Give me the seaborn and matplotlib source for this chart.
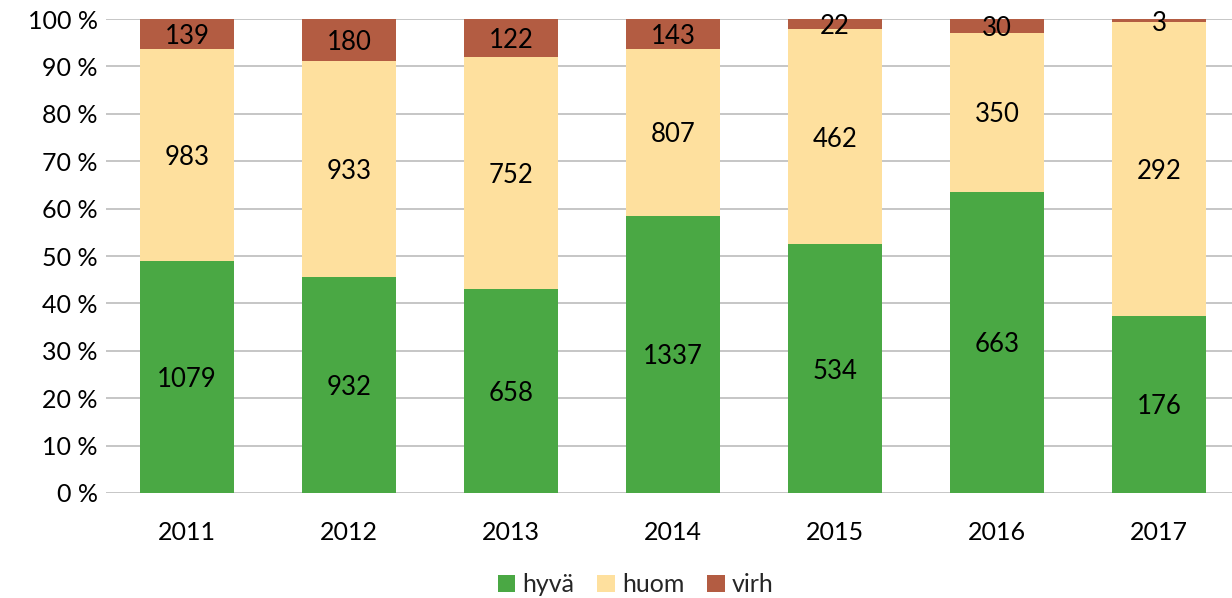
import numpy as np
import pandas as pd
import seaborn as sns
import matplotlib
matplotlib.use("Agg")
import matplotlib.pyplot as plt
from matplotlib.patches import Patch
from matplotlib.ticker import FuncFormatter

years = ["2011", "2012", "2013", "2014", "2015", "2016", "2017"]
hyva = [1079, 932, 658, 1337, 534, 663, 176]
huom = [983, 933, 752, 807, 462, 350, 292]
virh = [139, 180, 122, 143, 22, 30, 3]

series_names = ["hyvä", "huom", "virh"]
colors = ["#4aa844", "#fee09e", "#b35c42"]

sns.set_theme(style="white")
plt.rcParams["font.family"] = ["Lato", "DejaVu Sans"]

df = pd.DataFrame({"year": years, "hyvä": hyva, "huom": huom, "virh": virh})
tot = df[series_names].sum(axis=1)
pct = df[series_names].div(tot, axis=0) * 100

fig = plt.figure(figsize=(12.32, 5.98), dpi=100)
ax = fig.add_axes([0.086, 0.1756, 0.9205, 0.7926])

bottom = np.zeros(len(years))
for name, col in zip(series_names, colors):
    vals = pct[name].values
    sns.barplot(x=df["year"], y=vals, bottom=bottom, color=col, width=0.575,
                ax=ax, saturation=1, zorder=3, linewidth=0, edgecolor="none")
    for i, (v, b, raw) in enumerate(zip(vals, bottom, df[name].values)):
        ax.text(i, b + v / 2, str(raw), ha="center", va="center_baseline",
                fontsize=18.5, color="black", zorder=5)
    bottom = bottom + vals

ax.set_ylim(0, 100)
ax.set_xlim(-0.5, len(years) - 0.5)
ax.set_yticks(np.arange(0, 101, 10))
ax.yaxis.set_major_formatter(FuncFormatter(lambda v, p: f"{int(v)} %"))
ax.grid(axis="y", color="#bcbcbc", linewidth=1.2, zorder=0)
for s in ax.spines.values():
    s.set_visible(False)
ax.tick_params(axis="both", labelsize=18, length=0, colors="black")
ax.tick_params(axis="x", pad=20)
ax.tick_params(axis="y", pad=6)
ax.set_xlabel("")
ax.set_ylabel("")

handles = [Patch(facecolor=c, edgecolor="none", label=n) for n, c in zip(series_names, colors)]
fig.legend(handles=handles, loc="center", bbox_to_anchor=(0.516, 0.022), ncol=3,
           frameon=False, fontsize=18, handlelength=0.7, handleheight=0.7,
           handletextpad=0.3, columnspacing=0.9)

fig.savefig("out.png", dpi=100)
